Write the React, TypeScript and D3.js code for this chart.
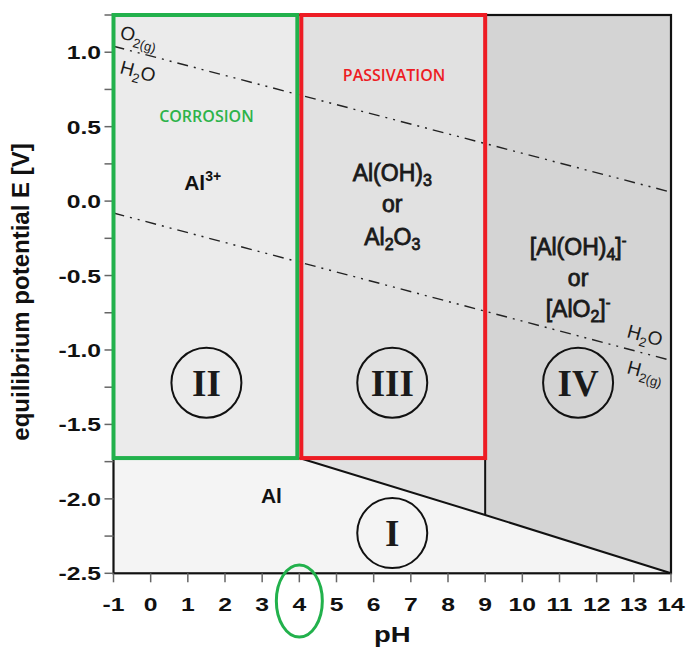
import React, { useRef, useEffect } from 'react';
import * as d3 from 'd3';

// Pourbaix diagram of aluminium (E vs pH)
const phTicks = [-1, 0, 1, 2, 3, 4, 5, 6, 7, 8, 9, 10, 11, 12, 13, 14];
const eTicks = [1.0, 0.5, 0.0, -0.5, -1.0, -1.5, -2.0, -2.5];
const eMinorTicks = [1.25, 0.75, 0.25, -0.25, -0.75, -1.25, -1.75, -2.25];

// region polygons [pH, E]
const regionI = [[-1, -2.5], [-1, -1.726], [4, -1.726], [14, -2.5]];
const regionII = [[-1, -1.726], [-1, 1.25], [4, 1.25], [4, -1.726]];
const regionIII = [[4, -1.726], [4, 1.25], [9, 1.25], [9, -2.108]];
const regionIV = [[9, -2.108], [9, 1.25], [14, 1.25], [14, -2.5]];

const oxideBoundary = [[4, -1.726], [9, -2.108], [14, -2.5]];
const hydroxideBoundary = [[9, 1.25], [9, -2.108]];
const o2Line = [[-1, 1.04], [14, 0.06]];
const h2Line = [[-1, -0.08], [14, -1.07]];

const circleLabels = ['I', 'II', 'III', 'IV'];
const circlePh = [6.5, 1.5, 6.5, 11.5];
const circleE = [-2.23, -1.22, -1.22, -1.22];

const App = () => {
  const ref = useRef<SVGSVGElement>(null);

  useEffect(() => {
    document.body.style.margin = '0';
    const svg = d3.select(ref.current).attr('width', 687).attr('height', 659)
      .style('background-color', 'white');
    svg.selectAll('*').remove();

    const x = d3.scaleLinear().domain([-1, 14]).range([113.5, 671]);
    const y = d3.scaleLinear().domain([-2.5, 1.25]).range([573.3, 15]);
    const line = d3.line<number[]>().x(d => x(d[0])).y(d => y(d[1]));
    const poly = (pts: number[][]) => line(pts) + 'Z';

    const fills = ['#f4f4f4', '#ebebeb', '#e1e1e1', '#d4d4d4'];
    [regionI, regionII, regionIII, regionIV].forEach((r, i) => {
      svg.append('path').attr('d', poly(r)).style('fill', fills[i]);
    });

    // water stability lines
    [o2Line, h2Line].forEach(l => {
      svg.append('path').attr('d', line(l))
        .style('fill', 'none').style('stroke', '#222').style('stroke-width', 1.4)
        .style('stroke-dasharray', '11 6 2 6 2 6');
    });

    // boundaries
    svg.append('path').attr('d', line(oxideBoundary))
      .style('fill', 'none').style('stroke', '#111').style('stroke-width', 2);
    svg.append('path').attr('d', line(hydroxideBoundary))
      .style('fill', 'none').style('stroke', '#111').style('stroke-width', 2);
    svg.append('rect')
      .attr('x', x(-1)).attr('y', y(1.25))
      .attr('width', x(14) - x(-1)).attr('height', y(-2.5) - y(1.25))
      .style('fill', 'none').style('stroke', '#111').style('stroke-width', 2.2);

    // ticks
    const tickG = svg.append('g').style('stroke', '#666').style('stroke-width', 1.5);
    phTicks.forEach(p => {
      tickG.append('line').attr('x1', x(p)).attr('x2', x(p))
        .attr('y1', y(-2.5)).attr('y2', y(-2.5) + 9);
    });
    eTicks.concat(eMinorTicks).forEach(e => {
      tickG.append('line').attr('x1', x(-1) - 9).attr('x2', x(-1))
        .attr('y1', y(e)).attr('y2', y(e));
    });

    const bold = (g: any) => g.style('font-family', 'Liberation Sans, Arial, sans-serif')
      .style('font-weight', 'bold').style('fill', '#111');

    phTicks.forEach(p => {
      bold(svg.append('text'))
        .attr('transform', `translate(${x(p)}, 611) scale(1.3, 1)`)
        .attr('text-anchor', 'middle').style('font-size', '19px')
        .text(String(p));
    });
    eTicks.forEach(e => {
      bold(svg.append('text'))
        .attr('transform', `translate(101, ${y(e) + 7}) scale(1.3, 1)`)
        .attr('text-anchor', 'end').style('font-size', '19px')
        .text(e.toFixed(1));
    });

    bold(svg.append('text'))
      .attr('transform', `translate(${x(6.5)}, 642) scale(1.25, 1)`)
      .attr('text-anchor', 'middle').style('font-size', '22px').text('pH');
    bold(svg.append('text'))
      .attr('transform', `translate(29, 292) rotate(-90)`)
      .attr('text-anchor', 'middle').style('font-size', '24px')
      .text('equilibrium potential E [V]');

    // circles with roman numerals
    circleLabels.forEach((lab, i) => {
      svg.append('circle').attr('cx', x(circlePh[i])).attr('cy', y(circleE[i])).attr('r', 35)
        .style('fill', 'none').style('stroke', '#111').style('stroke-width', 2);
      svg.append('text').attr('x', x(circlePh[i])).attr('y', y(circleE[i]) + 13)
        .attr('text-anchor', 'middle')
        .style('font-family', 'Liberation Serif, Times New Roman, serif')
        .style('font-weight', 'bold').style('font-size', '37px').style('fill', '#1a1a1a')
        .text(lab);
    });

    // species labels
    const species = (g: any, size: number) => g
      .style('font-family', 'Liberation Sans, Arial, sans-serif')
      .style('font-size', size + 'px').style('fill', '#1a1a1a')
      .style('stroke', '#1a1a1a').style('stroke-width', 0.8)
      .attr('text-anchor', 'middle');

    const t1 = bold(svg.append('text')).attr('x', x(1.4)).attr('y', 190)
      .attr('text-anchor', 'middle').style('font-size', '21px');
    t1.append('tspan').text('Al');
    t1.append('tspan').attr('dy', -9).style('font-size', '14px').text('3+');

    bold(svg.append('text')).attr('x', x(3.25)).attr('y', 503)
      .attr('text-anchor', 'middle').style('font-size', '21px').text('Al');

    const cx3 = x(6.5);
    const a1 = species(svg.append('text'), 23).attr('x', cx3).attr('y', 181);
    a1.append('tspan').text('Al(OH)');
    a1.append('tspan').attr('dy', 5).style('font-size', '16px').text('3');
    species(svg.append('text'), 23).attr('x', cx3).attr('y', 212).text('or');
    const a2 = species(svg.append('text'), 23).attr('x', cx3).attr('y', 245);
    a2.append('tspan').text('Al');
    a2.append('tspan').attr('dy', 5).style('font-size', '16px').text('2');
    a2.append('tspan').attr('dy', -5).text('O');
    a2.append('tspan').attr('dy', 5).style('font-size', '16px').text('3');

    const cx4 = x(11.5);
    const b1 = species(svg.append('text'), 23).attr('x', cx4).attr('y', 255);
    b1.append('tspan').text('[Al(OH)');
    b1.append('tspan').attr('dy', 5).style('font-size', '16px').text('4');
    b1.append('tspan').attr('dy', -5).text(']');
    b1.append('tspan').attr('dy', -9).style('font-size', '14px').text('-');
    species(svg.append('text'), 23).attr('x', cx4).attr('y', 286).text('or');
    const b2 = species(svg.append('text'), 23).attr('x', cx4).attr('y', 317);
    b2.append('tspan').text('[AlO');
    b2.append('tspan').attr('dy', 5).style('font-size', '16px').text('2');
    b2.append('tspan').attr('dy', -5).text(']');
    b2.append('tspan').attr('dy', -9).style('font-size', '14px').text('-');

    // water line labels
    const small = (g: any) => g.style('font-family', 'Liberation Sans, Arial, sans-serif')
      .style('font-size', '19px').style('fill', '#1a1a1a');
    const o2 = small(svg.append('text')).attr('transform', `translate(119, 38) rotate(15)`);
    o2.append('tspan').text('O');
    o2.append('tspan').attr('dy', 5).style('font-size', '13px').text('2(g)');
    const w1 = small(svg.append('text')).attr('transform', `translate(119, 73) rotate(15)`);
    w1.append('tspan').text('H');
    w1.append('tspan').attr('dy', 5).style('font-size', '13px').text('2');
    w1.append('tspan').attr('dy', -5).text('O');
    const w2 = small(svg.append('text')).attr('transform', `translate(626, 337) rotate(15)`);
    w2.append('tspan').text('H');
    w2.append('tspan').attr('dy', 5).style('font-size', '13px').text('2');
    w2.append('tspan').attr('dy', -5).text('O');
    const h2 = small(svg.append('text')).attr('transform', `translate(626, 373) rotate(15)`);
    h2.append('tspan').text('H');
    h2.append('tspan').attr('dy', 5).style('font-size', '13px').text('2(g)');

    // highlight boxes
    svg.append('rect').attr('x', x(-1)).attr('y', y(1.25))
      .attr('width', x(4) - x(-1) - 2).attr('height', y(-1.726) - y(1.25))
      .style('fill', 'none').style('stroke', '#22b14c').style('stroke-width', 4);
    svg.append('rect').attr('x', x(4) + 2).attr('y', y(1.25))
      .attr('width', x(9) - x(4) - 2).attr('height', y(-1.726) - y(1.25))
      .style('fill', 'none').style('stroke', '#ed1c24').style('stroke-width', 4);

    svg.append('text').attr('x', x(1.5)).attr('y', 122).attr('text-anchor', 'middle')
      .style('font-family', 'Open Sans, sans-serif').style('font-weight', 600)
      .style('font-size', '16px').style('fill', '#2db34a').text('CORROSION');
    svg.append('text').attr('x', x(6.55)).attr('y', 81).attr('text-anchor', 'middle')
      .style('font-family', 'Open Sans, sans-serif').style('font-weight', 600)
      .style('font-size', '16px').style('fill', '#ed1c24').text('PASSIVATION');

    // green ellipse around pH 4
    svg.append('ellipse').attr('cx', x(4)).attr('cy', 601).attr('rx', 23).attr('ry', 36)
      .style('fill', 'none').style('stroke', '#22b14c').style('stroke-width', 3);
  }, []);

  return <svg ref={ref} style={{ display: 'block' }}></svg>;
};

export default App;
